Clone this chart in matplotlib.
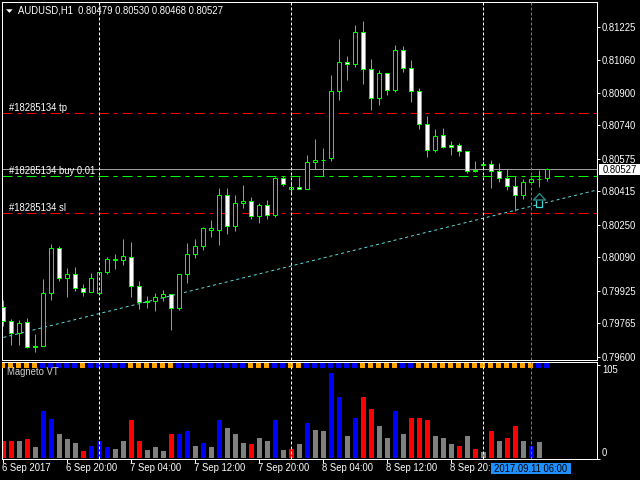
import numpy as np
import matplotlib
matplotlib.use("Agg")
import matplotlib.pyplot as plt
from matplotlib.patches import Rectangle
from matplotlib.path import Path
from matplotlib.transforms import Affine2D

# ---------- data ----------
opens = [79844,79775,79716,79770,79652,79652,79913,80134,79991,80006,79937,79918,79913,80016,80075,80075,
         80090,79947,79873,79873,79893,79908,79839,80006,80105,80144,80225,80223,80395,80243,80356,80366,
         80292,80346,80297,80481,80425,80435,80425,80558,80570,80577,80907,81050,81040,81198,81016,80873,
         80996,80912,81109,81021,80907,80745,80617,80691,80641,80641,80612,80521,80545,80550,80513,80479,
         80444,80395,80463,80474,80479]
highs = [79881,79785,79782,79792,79713,79984,80156,80147,80038,80043,79959,80014,80016,80092,80107,80181,
         80166,79974,79900,79915,79930,79910,80009,80161,80181,80240,80275,80432,80432,80398,80447,80388,
         80358,80373,80484,80491,80467,80486,80595,80673,80629,80989,81166,81082,81235,81254,81067,81013,
         80998,81136,81131,81062,80925,80787,80723,80728,80664,80654,80614,80565,80567,80570,80554,80524,
         80491,80475,80488,80521,80530]
lows = [79753,79659,79659,79644,79625,79652,79881,79974,79895,79925,79902,79918,79913,80009,80033,80053,
        79895,79836,79841,79826,79876,79733,79831,79964,80087,80127,80191,80151,80206,80220,80334,80280,
        80261,80280,80289,80442,80409,80425,80425,80524,80491,80565,80865,80964,81029,80944,80816,80841,
        80890,80906,81005,80856,80723,80586,80611,80631,80595,80590,80507,80512,80526,80434,80463,80422,
        80319,80378,80463,80439,80468]
closes = [79775,79716,79765,79647,79647,79913,80134,79991,80006,79937,79918,79991,80016,80080,80080,80095,
          79947,79868,79868,79893,79908,79839,80006,80105,80144,80233,80233,80395,80243,80356,80366,80292,
          80346,80297,80481,80449,80435,80425,80558,80572,80572,80907,81050,81040,81198,81016,80873,80996,
          80912,81109,81021,80907,80745,80617,80686,80632,80632,80612,80517,80517,80550,80513,80479,80444,
          80395,80463,80475,80475,80527]
ytick_labels = ["0.81225","0.81060","0.80900","0.80740","0.80575","0.80415",
                "0.80250","0.80090","0.79925","0.79765","0.79600"]
bid_price = 0.80527
tp_price = 0.80800
buy_price = 0.80490
sl_price = 0.80308
trend_x = [0, 74]
trend_y = [0.79696, 0.80420]
arrow_x = 67
arrow_y = 0.80372
vline_white = [12, 36, 60]
vline_blue = [66]
title = "AUDUSD,H1  0.80479 0.80530 0.80468 0.80527"

volumes = [21,21,21,24,14,58,48,30,24,19,9,15,21,14,11,21,47,22,10,14,9,30,30,34,15,19,14,47,37,30,19,18,25,
           22,47,10,11,18,43,35,34,105,75,27,50,75,61,40,25,58,30,50,50,47,27,25,18,15,27,11,8,34,22,25,40,22,15,20]
vol_colors = list("rrgrgbbgggrbbbggrrgggrbbgbgbgggrggbgrgbg"
                  "gbbgbrrggbgrrrgggrgrgrgrrgbg")
sig_colors = list("ooooobbbbbobbbbboooooobbbbbbbbbooobboobb"
                  "bbbbbooooob" "booooooooooooooobb")
xtick_idx = [0, 8, 16, 24, 32, 40, 48, 56]
xtick_labels = ["6 Sep 2017","6 Sep 20:00","7 Sep 04:00","7 Sep 12:00","7 Sep 20:00",
                "8 Sep 04:00","8 Sep 12:00","8 Sep 20:"]
cursor_label = "2017.09.11 06:00"
indicator_name = "Magneto VT"

# ---------- styling ----------
W, H = 640, 480
FONT = "Liberation Sans"
FS = 6.85
plt.rcParams["font.family"] = FONT
LIME = "#00ff00"
PX = 0.72

fig = plt.figure(figsize=(6.4, 4.8), dpi=100, facecolor="black")
def box(l, t, r, b):
    return [l / W, 1 - b / H, (r - l) / W, (b - t) / H]

XLIM = ((2.4 - 3.4) / 8, (597.4 - 3.4) / 8)
ax = fig.add_axes(box(2.4, 2.4, 597.4, 360.4), facecolor="black")
ax2 = fig.add_axes(box(2.4, 362.4, 597.4, 459.4), facecolor="black")
for a in (ax, ax2):
    a.set_xlim(*XLIM)
    for s in a.spines.values():
        s.set_color("white"); s.set_linewidth(PX)
ax.set_ylim(0.795828, 0.813456)
ax2.set_ylim(-1.2, 117.9)

page = Affine2D().scale(1 / W, -1 / H).translate(0, 1) + fig.transFigure

# candles
o, h, l, c = [np.array(v) / 1e5 for v in (opens, highs, lows, closes)]
x = np.arange(len(o))
BW = 4 / 8
for i in x:
    ax.plot([i, i], [l[i], h[i]], color=LIME, lw=PX, zorder=3, solid_capstyle="butt")
    top, bot = max(o[i], c[i]), min(o[i], c[i])
    ax.add_patch(Rectangle((i - BW / 2, bot), BW, top - bot,
                           facecolor="white" if c[i] < o[i] else "black",
                           edgecolor=LIME, lw=PX, zorder=4))

# lines
def dashed(a, val, col):
    a.axhline(val, color=col, lw=PX, ls=(0, (10, 5, 4, 5)), zorder=2, dash_capstyle="butt")
dashed(ax, tp_price, "#ff0000")
dashed(ax, sl_price, "#ff0000")
dashed(ax, buy_price, LIME)
ax.axhline(bid_price, color="#a0a0a0", lw=PX, zorder=2)
ax.plot(trend_x, trend_y, color="#5fd8d8", lw=PX, ls=(0, (3, 3)), zorder=2, dash_capstyle="butt")
ax.set_xlim(*XLIM)
for a in (ax, ax2):
    for v in vline_white:
        a.axvline(v, color="white", lw=PX, ls=(0, (3, 2)), zorder=5, dash_capstyle="butt")
    for v in vline_blue:
        a.axvline(v, color="#1e90ff", lw=PX, ls=(0, (3, 2)), zorder=5, dash_capstyle="butt")

# arrow marker: dark teal head over light stem
stem = Path([(-3, 0.5), (-3, -7), (3, -7), (3, 0.5)])
head = Path([(0, 7), (-6, 0.5), (-3, 0.5), (3, 0.5), (6, 0.5), (0, 7)], closed=True)
ax.plot([arrow_x], [arrow_y], marker=stem, ms=10, mfc="black", mec="#40d8d8", mew=0.9, ls="none", zorder=6)
ax.plot([arrow_x], [arrow_y], marker=head, ms=10, mfc="black", mec="#2a8c8c", mew=1.0, ls="none", zorder=6)

# y ticks main
yt = [float(s) for s in ytick_labels]
ax.yaxis.tick_right()
ax.set_yticks(yt)
ax.set_yticklabels(ytick_labels, color="white", fontsize=FS)
ax.tick_params(axis="y", length=2.2, width=PX, color="white", pad=1)
ax.set_xticks([])

# bid label
fig.add_artist(Rectangle((599, 164), 41, 10.7, transform=page, facecolor="white", edgecolor="none"))
fig.text(602.5, 169.6, f"{bid_price:.5f}", transform=page, color="black", fontsize=FS, va="center", ha="left")

# text
def label(px, py, s, color="white", **kw):
    fig.text(px, py, s, transform=page, color=color, fontsize=FS, va="center", ha="left", **kw)
label(18.5, 10.8, title)
label(9, 107.7, "#18285134 tp")
label(9, 170.8, "#18285134 buy 0.01")
label(9, 207.8, "#18285134 sl")
label(7, 372, indicator_name, color="#d0d0d0")
fig.add_artist(plt.Polygon([(6, 9.3), (12.7, 9.3), (9.4, 12.8)], closed=True, transform=page,
                           facecolor="white", edgecolor="none"))

# indicator
cmap = {"r": "#ff0000", "b": "#0000ff", "g": "#808080", "o": "#ffa500"}
ax2.bar(np.arange(len(volumes)), volumes, width=5 / 8, bottom=0,
        color=[cmap[k] for k in vol_colors], zorder=2, linewidth=0)
ax2.bar(np.arange(len(sig_colors)) - 0.09, [6.2] * len(sig_colors), width=5 / 8, bottom=111,
        color=[cmap[k] for k in sig_colors], zorder=3, linewidth=0)
ax2.set_xlim(*XLIM)
ax2.set_ylim(-1.2, 117.9)
ax2.yaxis.tick_right()
ax2.set_yticks([114.5, -0.6])
ax2.set_yticklabels(["", ""])
ax2.tick_params(axis="y", length=2.2, width=PX, color="white")
label(602, 369.8, "105")
label(602, 452.8, "0")

ax2.set_xticks(xtick_idx)
ax2.set_xticklabels([])
ax2.tick_params(axis="x", length=3, width=PX, color="white")
for i, s in zip(xtick_idx, xtick_labels):
    label(2 + 8 * i, 468.4, s)
fig.add_artist(Rectangle((491, 463), 79.7, 11, transform=page, facecolor="#1e90ff", edgecolor="none", zorder=5))
fig.text(530.8, 468.6, cursor_label, transform=page, color="black", fontsize=FS, va="center", ha="center", zorder=6)

fig.savefig("out.png", dpi=100, facecolor="black")
